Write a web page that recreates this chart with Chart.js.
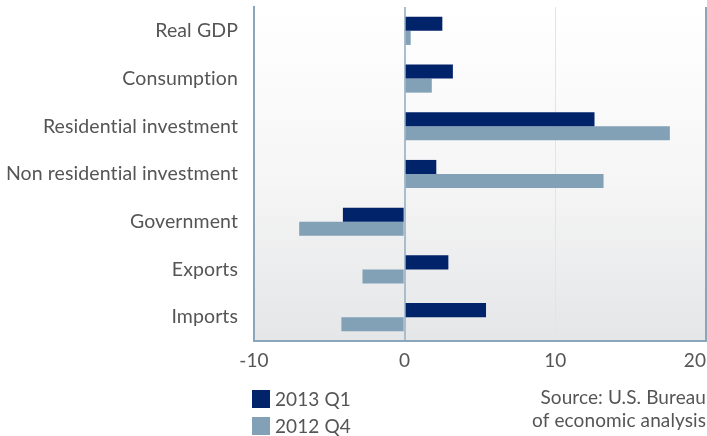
<!DOCTYPE html>
<html>
<head>
<meta charset="utf-8">
<script src="https://cdn.jsdelivr.net/npm/chart.js@4"></script>
<style>
  html, body { margin: 0; padding: 0; background: #fff; }
  #wrap { width: 707px; height: 436px; }
  canvas { font-variant-ligatures: none; }
</style>
</head>
<body>
<div id="wrap"><canvas id="barChart" width="707" height="436"></canvas></div>
<script>
// categorias e valores (variação %, anualizada)
const categorias = ['Real GDP', 'Consumption', 'Residential investment', 'Non residential investment', 'Government', 'Exports', 'Imports'];
const q1_2013 = [2.5, 3.2, 12.6, 2.1, -4.1, 2.9, 5.4];
const q4_2012 = [0.4, 1.8, 17.6, 13.2, -7.0, -2.8, -4.2];
const xTicks = [-10, 0, 10, 20];
const fonte = ['Source: U.S. Bureau', 'of economic analysis'];

const FONT = 'Lato, "Open Sans", sans-serif';
const COR_TEXTO = '#555';

// fundo em degradê só na área do gráfico
const fundoPlugin = {
  id: 'fundo',
  beforeDraw(chart) {
    const { ctx, chartArea: a } = chart;
    // sem ligaduras (evita o "ti" unido da Lato)
    ctx.letterSpacing = '0.1px';
    ctx.textRendering = 'optimizeSpeed';
    const g = ctx.createLinearGradient(0, a.top, 0, a.bottom);
    g.addColorStop(0, '#ffffff');
    g.addColorStop(0.5, '#f6f6f6');
    g.addColorStop(1, '#e5e6e8');
    ctx.save();
    ctx.fillStyle = g;
    ctx.fillRect(a.left, a.top, a.right - a.left, a.bottom - a.top);
    ctx.restore();
  }
};

// rótulos do eixo x, legenda e fonte
const extrasPlugin = {
  id: 'extras',
  afterDraw(chart) {
    const { ctx, chartArea: a } = chart;
    const x = chart.scales.x;
    ctx.save();
    ctx.fillStyle = COR_TEXTO;
    ctx.font = '19px ' + FONT;
    ctx.textBaseline = 'middle';
    xTicks.forEach(v => {
      const px = x.getPixelForValue(v);
      const w = ctx.measureText(String(v)).width;
      let left = px - w / 2;
      if (left + w > chart.width - 1) left = chart.width - 1 - w;
      ctx.textAlign = 'left';
      ctx.fillText(String(v), left, a.bottom + 20);
    });

    // legenda
    chart.data.datasets.forEach((ds, i) => {
      const y = a.bottom + 58 + i * 27;
      ctx.fillStyle = ds.backgroundColor;
      ctx.fillRect(252, y - 9, 18, 18);
      ctx.fillStyle = COR_TEXTO;
      ctx.textAlign = 'left';
      ctx.font = '19px ' + FONT;
      ctx.fillText(ds.label, 275, y + 1);
    });

    // fonte dos dados
    ctx.textAlign = 'right';
    ctx.font = '19px ' + FONT;
    fonte.forEach((linha, i) => {
      ctx.fillText(linha, 706, a.bottom + 57 + i * 23);
    });
    ctx.restore();
  }
};

const ctx = document.getElementById('barChart').getContext('2d');
new Chart(ctx, {
  type: 'bar',
  data: {
    labels: categorias,
    datasets: [{
      label: '2013 Q1',
      data: q1_2013,
      backgroundColor: '#00236a',
      barPercentage: 1,
      categoryPercentage: 0.59
    }, {
      label: '2012 Q4',
      data: q4_2012,
      backgroundColor: '#82a1b7',
      barPercentage: 1,
      categoryPercentage: 0.59
    }]
  },
  options: {
    indexAxis: 'y',
    responsive: false,
    animation: false,
    layout: { padding: { top: 7, right: 1, left: 0, bottom: 0 } },
    plugins: {
      legend: { display: false },
      tooltip: { enabled: false }
    },
    scales: {
      x: {
        min: -10,
        max: 20,
        ticks: { stepSize: 10, display: false },
        afterFit: s => { s.height = 95; s.paddingLeft = 0; s.paddingRight = 0; },
        grid: {
          drawTicks: false,
          color: c => {
            const v = c.tick && c.tick.value;
            if (v === 0) return '#a9bdcc';
            if (v === 10) return '#dde6ed';
            if (v === 20) return '#8ba6bb';
            return 'rgba(0,0,0,0)';
          },
          lineWidth: c => (c.tick && (c.tick.value === 0 || c.tick.value === 20)) ? 2 : 1
        },
        border: { display: true, color: '#8ba6bb', width: 2 }
      },
      y: {
        afterFit: s => { s.width = 254; s.paddingTop = 0; s.paddingBottom = 0; },
        ticks: {
          padding: 16,
          font: { size: 19.5, family: FONT },
          color: COR_TEXTO
        },
        grid: { drawTicks: false, color: 'rgba(0,0,0,0)' },
        border: { display: true, color: '#8ba6bb', width: 2 }
      }
    }
  },
  plugins: [fundoPlugin, extrasPlugin]
});
</script>
</body>
</html>
